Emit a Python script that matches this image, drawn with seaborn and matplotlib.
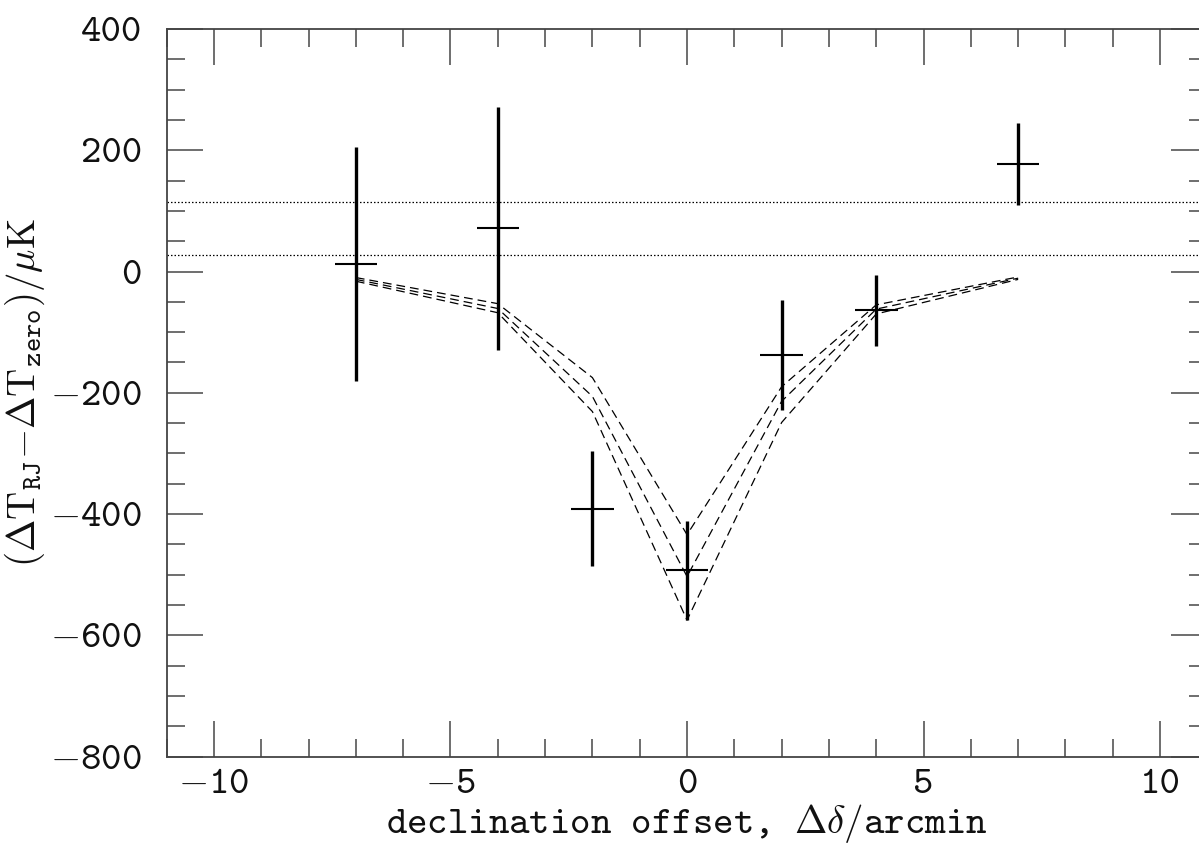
import numpy as np
import pandas as pd
import matplotlib
matplotlib.use('Agg')
import matplotlib.pyplot as plt
from matplotlib.ticker import MultipleLocator, FuncFormatter
import seaborn as sns

# measured points (declination offset in arcmin)
offsets = [-7, -4, -2, 0, 2, 4, 7]
delta_t = [13, 71, -391, -493, -138, -64, 177]
delta_t_err = [193, 200, 95, 81, 91, 59, 68]
offset_halfwidth = 0.45

# model curves (three cluster models)
model_shallow = [-10, -53, -175, -434, -190, -55, -9]
model_middle = [-13, -61, -206, -503, -214, -62, -11]
model_deep = [-16, -68, -231, -575, -249, -70, -13]

# zero-level band
zero_levels = [115, 27]

sns.set_style('ticks')
plt.rcParams['font.family'] = ['cmtt10', 'DejaVu Serif']
plt.rcParams['mathtext.fontset'] = 'cm'
plt.rcParams['axes.unicode_minus'] = False


def tick_fmt(v, pos):
    # math minus, since cmtt10 has no unicode minus glyph
    return (r'$-$' if v < 0 else '') + f'{abs(v):g}'


fig = plt.figure(figsize=(11.99, 8.52), dpi=100)
ax = fig.add_axes([0.139, 0.112, 0.868, 0.854])

models = pd.DataFrame({
    'offset': offsets * 3,
    'dT': model_shallow + model_middle + model_deep,
    'model': ['shallow'] * 7 + ['middle'] * 7 + ['deep'] * 7,
})
sns.lineplot(data=models, x='offset', y='dT', units='model', estimator=None,
             color='black', lw=0.9, dashes=False, ax=ax, legend=False)
for line in ax.lines:
    line.set_dashes([7, 4])

for lvl in zero_levels:
    ax.axhline(lvl, color='black', lw=0.9, ls=(0, (1.2, 1.6)))

ax.errorbar(offsets, delta_t, yerr=delta_t_err, fmt='none', ecolor='black',
            elinewidth=2.4, capsize=0)
ax.errorbar(offsets, delta_t, xerr=offset_halfwidth, fmt='none', ecolor='black',
            elinewidth=1.5, capsize=0)

ax.set_xlim(-11, 11)
ax.set_ylim(-800, 400)
ax.xaxis.set_major_locator(MultipleLocator(5))
ax.xaxis.set_minor_locator(MultipleLocator(1))
ax.yaxis.set_major_locator(MultipleLocator(200))
ax.yaxis.set_minor_locator(MultipleLocator(50))
ax.xaxis.set_major_formatter(FuncFormatter(tick_fmt))
ax.yaxis.set_major_formatter(FuncFormatter(tick_fmt))

ax.tick_params(which='both', direction='in', top=True, right=True,
               colors='#555555', labelcolor='#111111', width=1.2, labelsize=28)
ax.tick_params(which='major', length=26)
ax.tick_params(which='minor', length=13)
ax.tick_params(axis='x', which='major', pad=9)
ax.tick_params(axis='y', which='major', pad=18)
for sp in ax.spines.values():
    sp.set_color('#444444')
    sp.set_linewidth(1.3)

ax.set_xlabel(r'declination offset, $\Delta\delta/\mathtt{arcmin}$', fontsize=28,
              labelpad=0, color='#111111')
ax.set_ylabel(r'$(\Delta\mathrm{T}_{\mathtt{RJ}}{-}\Delta\mathrm{T}_{\mathtt{zero}})/\mu\mathrm{K}$',
              fontsize=28, labelpad=2, color='#111111')

fig.savefig('out.png', dpi=100)
